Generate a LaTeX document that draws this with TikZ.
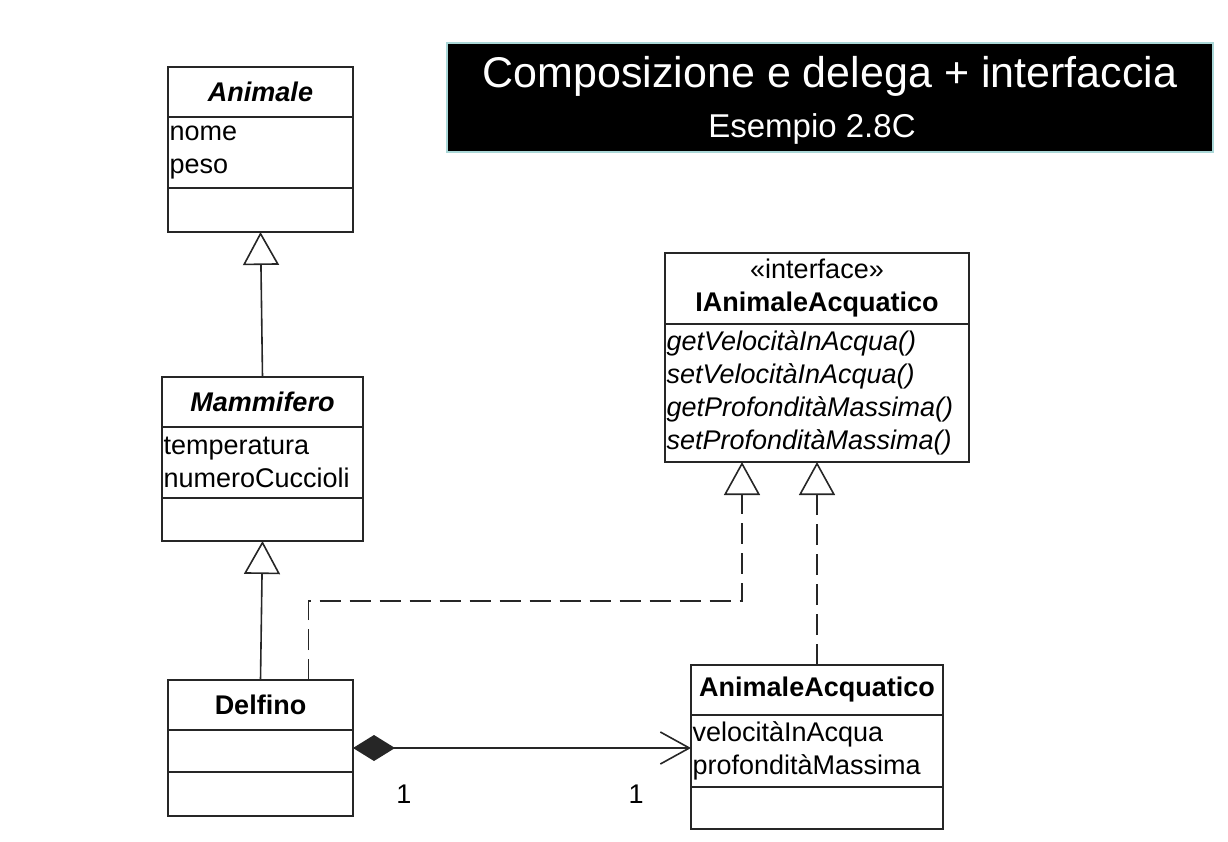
\documentclass[tikz,border=0pt]{standalone}
\usepackage{fontspec}
\setmainfont{Liberation Sans}
\usetikzlibrary{arrows.meta}
\definecolor{bannerline}{RGB}{170,215,215}

\begin{document}
\begin{tikzpicture}[x=1pt, y=-1pt,
        box/.style={draw=black!85, line width=1.6pt, inner sep=0pt, outer sep=0pt,
            font=\fontsize{27}{33}\selectfont},
        body/.style={box, inner xsep=1.5pt, align=left},
        gen/.style={draw=black!85, line width=1.6pt, -{Triangle[open, length=33pt, width=36pt]}},
        real/.style={gen, dash pattern=on 21pt off 9pt},
        comp/.style={draw=black!85, line width=1.6pt,
            {Diamond[length=42pt, width=26pt]}-{Straight Barb[length=29pt, width=32pt]}}]
    \useasboundingbox (0,0) rectangle (1228,841);

    % Titolo
    \node[fill=black, draw=bannerline, line width=1.2pt, minimum width=766pt, minimum height=109pt] (banner) at (830,97.5) {};
    \node[text=white, font=\fontsize{43}{43}\selectfont] (title) at (830,76) {Composizione e delega + interfaccia};
    \node[text=white, font=\fontsize{33}{33}\selectfont] (subtitle) at (812,129) {Esempio 2.8C};

    % Animale
    \node[box, minimum width=185pt, minimum height=50pt] (anim) at (260.5,92) {\textbf{\textit{Animale}}};
    \node[body, text width=182pt, minimum height=71pt] (anim-a) at (260.5,152.5) {nome\\peso};
    \node[body, text width=182pt, minimum height=44pt] (anim-o) at (260.5,210) {};

    % Mammifero
    \node[box, minimum width=201pt, minimum height=50pt] (mamm) at (262.5,402) {\textbf{\textit{Mammifero}}};
    \node[body, text width=198pt, minimum height=71pt] (mamm-a) at (262.5,462.5) {temperatura\\numeroCuccioli};
    \node[body, text width=198pt, minimum height=43pt] (mamm-o) at (262.5,519.5) {};

    % Delfino
    \node[box, minimum width=185pt, minimum height=50pt] (delf) at (260.5,705) {\textbf{Delfino}};
    \node[body, text width=182pt, minimum height=42pt] (delf-a) at (260.5,751) {};
    \node[body, text width=182pt, minimum height=44pt] (delf-o) at (260.5,794) {};

    % interfaccia
    \node[box, minimum width=304pt, minimum height=71pt, align=center] (iface) at (817,288.5) {«interface»\\\textbf{IAnimaleAcquatico}};
    \node[body, text width=301pt, minimum height=138pt] (iface-o) at (817,393)
        {\textit{getVelocitàInAcqua()}\\\textit{setVelocitàInAcqua()}\\\textit{getProfonditàMassima()}\\\textit{setProfonditàMassima()}};

    % AnimaleAcquatico
    \node[box, minimum width=252pt, minimum height=50pt] (aqua) at (817,690) {\textbf{AnimaleAcquatico}};
    \node[body, text width=249pt, minimum height=72pt] (aqua-a) at (817,751) {velocitàInAcqua\\profonditàMassima};
    \node[body, text width=249pt, minimum height=42pt] (aqua-o) at (817,808) {};

    % ereditarieta
    \draw[gen] (mamm.north) -- (anim-o.south);
    \draw[gen] (delf.north) -- (mamm-o.south);

    % realizzazione
    \coordinate (turn) at (742,601);
    \draw[real] ([xshift=48pt]delf.north) |- (turn) -- ([xshift=-75pt]iface-o.south);
    \draw[real] (aqua.north) -- (iface-o.south);

    % composizione
    \draw[comp] ([yshift=3pt]delf-a.east) -- ([yshift=3pt]aqua-a.west);
    \node[font=\fontsize{27}{27}\selectfont] (mult-l) at (404,794) {1};
    \node[font=\fontsize{27}{27}\selectfont] (mult-r) at (636,794) {1};
\end{tikzpicture}
\end{document}
